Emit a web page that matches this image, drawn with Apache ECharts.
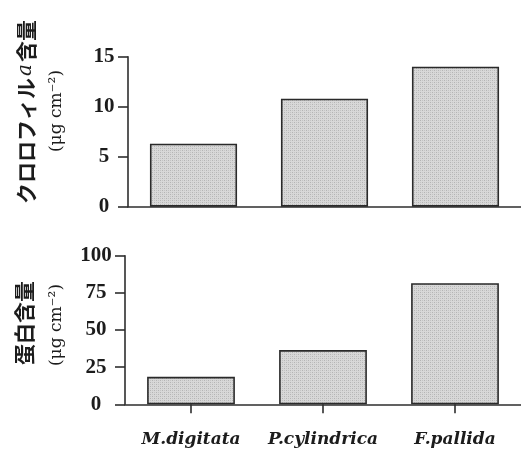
<!DOCTYPE html>
<html><head><meta charset="utf-8">
<script src="https://cdn.jsdelivr.net/npm/echarts@6.0.0/dist/echarts.min.js"></script>
<style>html,body{margin:0;padding:0;background:#fff}#c{width:521px;height:451px}</style>
</head><body><div id="c"></div>
<script>
// ---- data ----
const categories = ['M.digitata', 'P.cylindrica', 'F.pallida'];
const chlorophyll = [6.3, 10.8, 14.0];
const protein = [18.5, 36.5, 81.5];
const chlTicks = [0, 5, 10, 15];
const proteinTicks = [0, 25, 50, 75, 100];

// ---- styles ----
const ink = '#1c1c1c';
const axisLine = { show: true, lineStyle: { color: '#2e2e2e', width: 1.6 } };

// stippled grey fill pattern (style only)
const pat = document.createElement('canvas');
pat.width = 4; pat.height = 4;
const pctx = pat.getContext('2d');
pctx.fillStyle = '#d8d8d8'; pctx.fillRect(0, 0, 4, 4);
pctx.fillStyle = '#b4b4b4';
pctx.fillRect(0, 0, 1, 1); pctx.fillRect(2, 2, 1, 1);
pctx.fillStyle = '#c4c4c4';
pctx.fillRect(2, 0, 1, 1); pctx.fillRect(0, 2, 1, 1);

const barStyle = { color: { image: pat, repeat: 'repeat' }, borderColor: '#2a2a2a', borderWidth: 1.6 };
const numLabel = { fontFamily: 'Liberation Serif', fontWeight: 'bold', fontSize: 21, color: ink, align: 'center' };
const unitFont = '17px "DejaVu Serif"';

const chart = echarts.init(document.getElementById('c'), null, { renderer: 'canvas' });
chart.setOption({
  animation: false,
  grid: [
    { left: 128, top: 56.7, width: 397, height: 150 },
    { left: 125, top: 255.7, width: 397, height: 148.6 }
  ],
  xAxis: [
    { type: 'category', gridIndex: 0, data: categories, axisLine: axisLine,
      axisTick: { show: false }, axisLabel: { show: false } },
    { type: 'category', gridIndex: 1, data: categories, axisLine: axisLine,
      axisTick: { show: true, alignWithLabel: true, length: 9, lineStyle: { color: '#2e2e2e', width: 1.6 } },
      axisLabel: { interval: 0, hideOverlap: false, margin: 27, fontFamily: 'DejaVu Serif', fontWeight: 'bold', fontStyle: 'italic', fontSize: 17, color: ink } }
  ],
  yAxis: [
    { type: 'value', gridIndex: 0, min: chlTicks[0], max: chlTicks[chlTicks.length - 1], interval: chlTicks[1] - chlTicks[0],
      axisLine: axisLine, splitLine: { show: false },
      axisTick: { show: true, length: 10, lineStyle: { color: '#2e2e2e', width: 1.6 } },
      axisLabel: Object.assign({ margin: 24 }, numLabel) },
    { type: 'value', gridIndex: 1, min: proteinTicks[0], max: proteinTicks[proteinTicks.length - 1], interval: proteinTicks[1] - proteinTicks[0],
      axisLine: axisLine, splitLine: { show: false },
      axisTick: { show: true, length: 10, lineStyle: { color: '#2e2e2e', width: 1.6 } },
      axisLabel: Object.assign({ margin: 29 }, numLabel) }
  ],
  series: [
    { type: 'bar', xAxisIndex: 0, yAxisIndex: 0, data: chlorophyll, barWidth: '66.5%', itemStyle: barStyle },
    { type: 'bar', xAxisIndex: 1, yAxisIndex: 1, data: protein, barWidth: '66.5%', itemStyle: barStyle }
  ],
  graphic: [
    { type: 'text', x: 26, y: 112, rotation: Math.PI / 2,
      style: { text: '{n|クロロフィル}{i|a}{n|含量}', align: 'center', verticalAlign: 'middle',
        rich: { n: { fontFamily: 'Noto Sans CJK JP', fontWeight: 'bold', fontSize: 21, fill: ink },
                i: { fontFamily: 'DejaVu Serif', fontStyle: 'italic', fontSize: 20, fill: ink, padding: [0, 2, 0, 2] } } } },
    { type: 'text', x: 57, y: 111, rotation: Math.PI / 2,
      style: { text: '(μg cm⁻²)', align: 'center', verticalAlign: 'middle', font: unitFont, fill: ink } },
    { type: 'text', x: 24, y: 323, rotation: Math.PI / 2,
      style: { text: '蛋白含量', align: 'center', verticalAlign: 'middle',
        font: 'bold 21px "Noto Sans CJK JP"', fill: ink } },
    { type: 'text', x: 57, y: 325, rotation: Math.PI / 2,
      style: { text: '(μg cm⁻²)', align: 'center', verticalAlign: 'middle', font: unitFont, fill: ink } }
  ]
});
</script>
</body></html>
